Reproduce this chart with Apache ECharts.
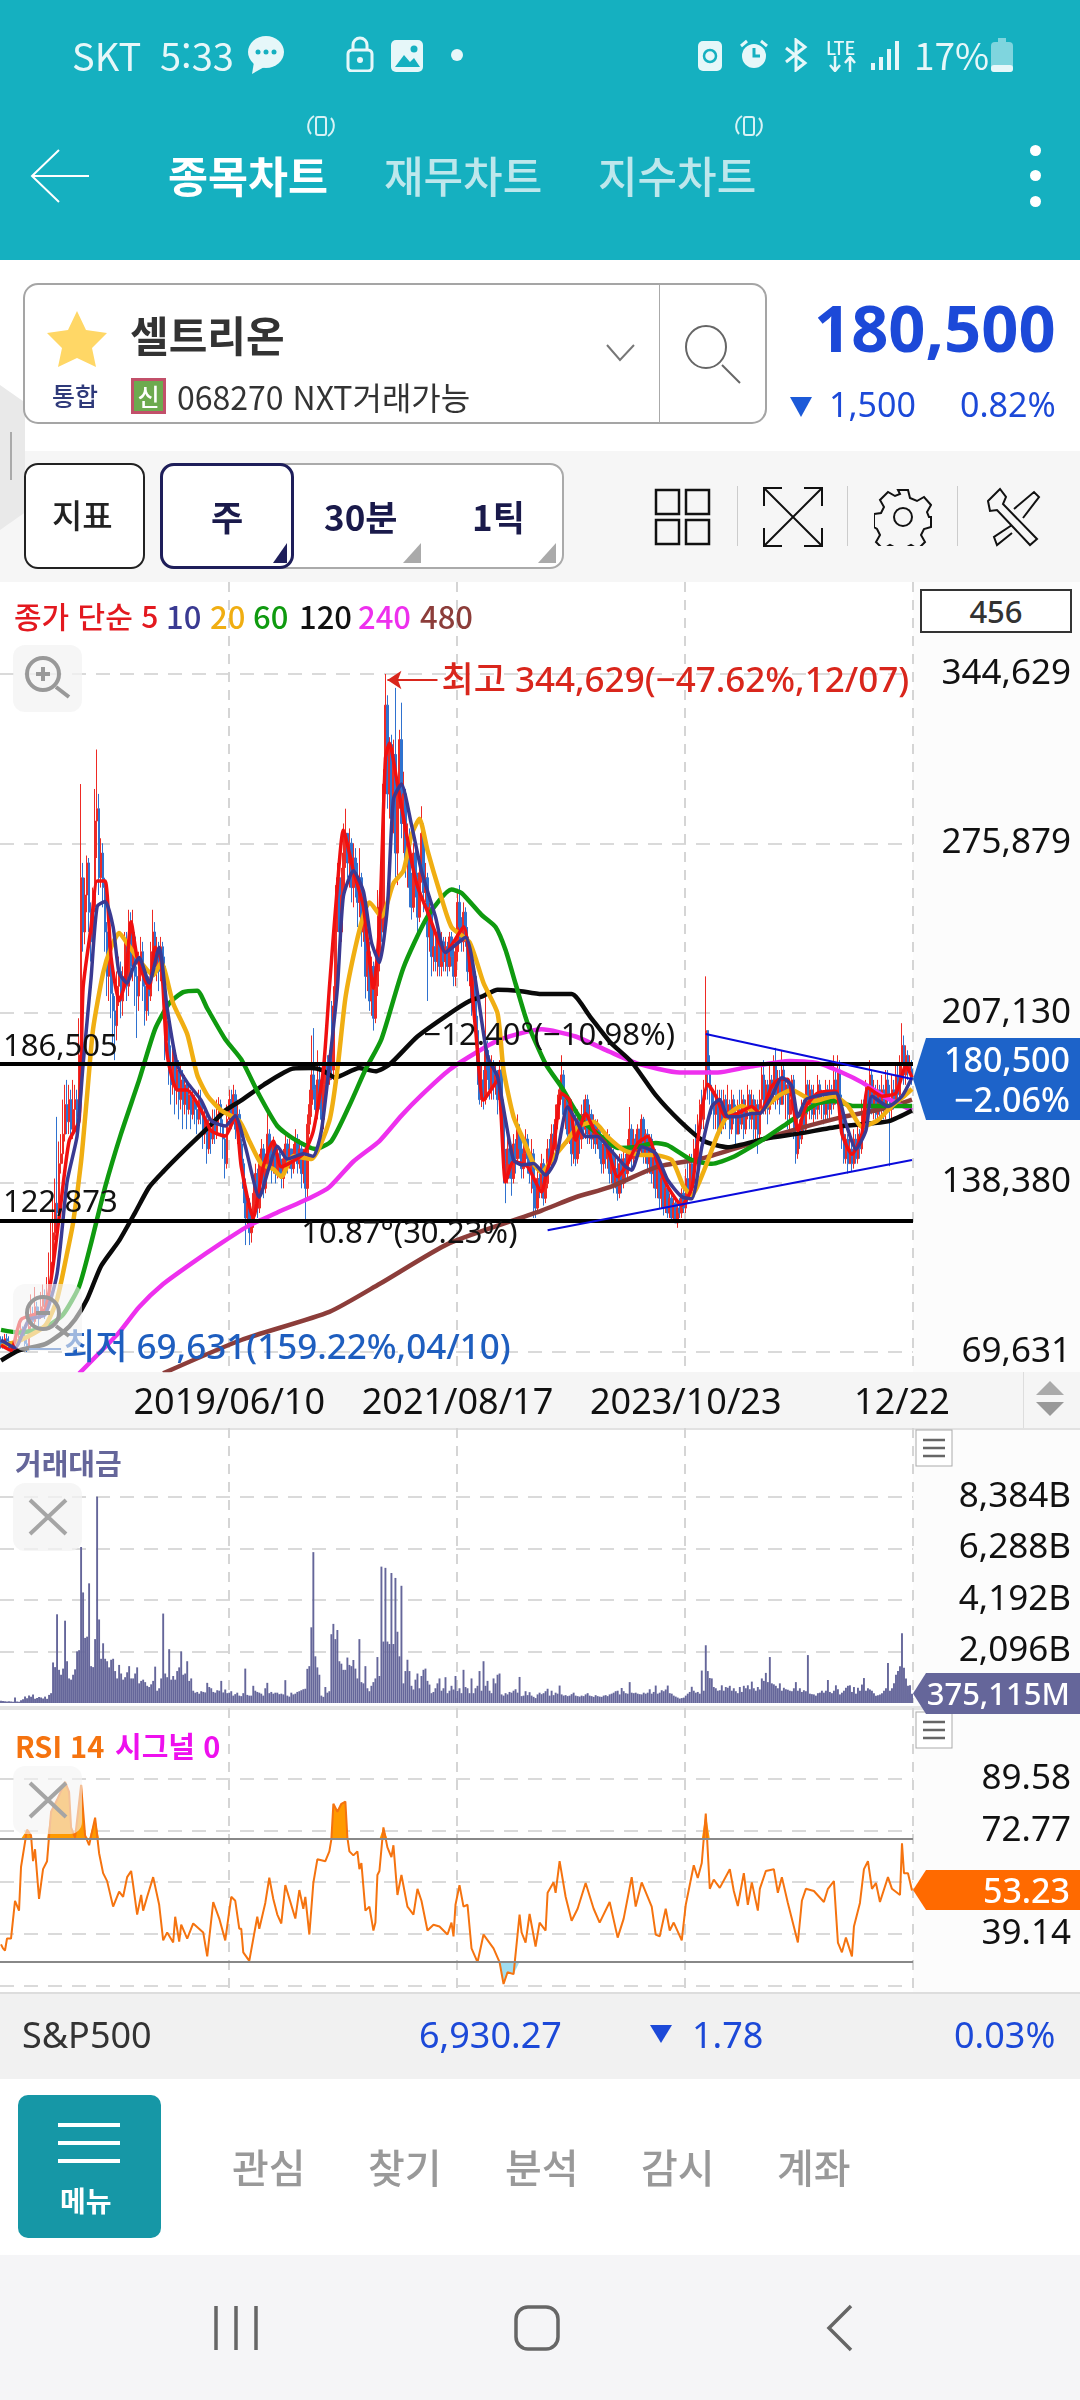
<!DOCTYPE html>
<html lang="ko">
<head>
<meta charset="utf-8">
<title>셀트리온 종목차트</title>
<script src="https://cdn.jsdelivr.net/npm/echarts@6/dist/echarts.min.js"></script>
<style>
    html, body { margin: 0; padding: 0; }
    body { position: relative; width: 1080px; height: 2400px; overflow: hidden; background: #fff; font-family: "Noto Sans CJK KR", "Noto Sans", sans-serif; }
    .box, .t, svg.ic { position: absolute; }
    .t { white-space: nowrap; line-height: 1; }
    #chart { position: absolute; left: 0; top: 0; width: 1080px; height: 2400px; z-index: 1; }
    #over { position: absolute; left: 0; top: 0; width: 1080px; height: 2400px; z-index: 2; }
    .tag { position: absolute; left: 913px; width: 167px; color: #fff; text-align: right; box-sizing: border-box; padding-right: 10px; clip-path: polygon(0 50%, 13px 0, 100% 0, 100% 100%, 13px 100%); font-family: "Noto Sans", sans-serif; font-weight: 500; font-size: 34px; }
</style>
</head>
<body>

<!-- 배경 -->
<div class="box" style="left:0;top:0;width:1080px;height:260px;background:#15B0C0"></div>
<div class="box" style="left:0;top:451px;width:1080px;height:131px;background:#F6F6F6"></div>
<div class="box" style="left:913px;top:582px;width:167px;height:1410px;background:#FCFCFC"></div>
<div class="box" style="left:0;top:1372px;width:1080px;height:56px;background:#F5F5F5;border-bottom:2px solid #E2E2E2"></div>
<div class="box" style="left:0;top:1706px;width:1080px;height:4px;background:#E4E4E4"></div>
<div class="box" style="left:0;top:1992px;width:1080px;height:85px;background:#F1F1F1;border-top:2px solid #DDD"></div>
<div class="box" style="left:0;top:2255px;width:1080px;height:145px;background:#F5F5F7"></div>

<div id="chart"></div>

<div id="over">
    <!-- 상태바 -->
    <div class="t" style="left:72px;top:36px;font-size:38px;color:#E6F7F9">SKT</div>
    <div class="t" style="left:160px;top:36px;font-size:38px;color:#E6F7F9">5:33</div>
    <svg class="ic" style="left:246px;top:34px" width="40" height="42" viewBox="0 0 40 42"><ellipse cx="20" cy="18" rx="18" ry="16" fill="#E6F7F9"/><path d="M8 28 L6 40 L20 32Z" fill="#E6F7F9"/><circle cx="12" cy="18" r="2.5" fill="#15B0C0"/><circle cx="20" cy="18" r="2.5" fill="#15B0C0"/><circle cx="28" cy="18" r="2.5" fill="#15B0C0"/></svg>
    <svg class="ic" style="left:345px;top:36px" width="30" height="36" viewBox="0 0 30 36"><rect x="3" y="14" width="24" height="21" rx="4" fill="none" stroke="#E6F7F9" stroke-width="3"/><path d="M8 14V9a7 7 0 0 1 14 0v5" fill="none" stroke="#E6F7F9" stroke-width="3"/><circle cx="15" cy="24" r="3" fill="#E6F7F9"/></svg>
    <svg class="ic" style="left:391px;top:40px" width="32" height="32" viewBox="0 0 32 32"><rect width="32" height="32" rx="5" fill="#E6F7F9"/><path d="M4 27L13 15l6 7 4-4 6 9z" fill="#15B0C0"/><circle cx="23" cy="9" r="3.5" fill="#15B0C0"/></svg>
    <div class="box" style="left:451px;top:49px;width:12px;height:12px;border-radius:50%;background:#E6F7F9"></div>
    <svg class="ic" style="left:698px;top:38px" width="26" height="34" viewBox="0 0 26 34"><rect y="3" width="24" height="30" rx="5" fill="#E6F7F9"/><circle cx="12" cy="18" r="6" fill="none" stroke="#15B0C0" stroke-width="2.5"/></svg>
    <svg class="ic" style="left:738px;top:38px" width="32" height="34" viewBox="0 0 32 34"><circle cx="16" cy="18" r="12" fill="#E6F7F9"/><path d="M16 10v8h6" fill="none" stroke="#15B0C0" stroke-width="3"/><path d="M3 8l6-5M29 8l-6-5" stroke="#E6F7F9" stroke-width="3"/></svg>
    <svg class="ic" style="left:782px;top:38px" width="28" height="34" viewBox="0 0 28 34" fill="none" stroke="#E6F7F9" stroke-width="3"><path d="M4 10l19 15-9 7V2l9 7L4 24"/></svg>
    <div class="t" style="left:826px;top:38px;font-size:18px;color:#E6F7F9;font-weight:500">LTE</div>
    <svg class="ic" style="left:828px;top:56px" width="30" height="16" viewBox="0 0 30 16" fill="none" stroke="#E6F7F9" stroke-width="2.5"><path d="M7 0v14M2 9l5 6 5-6M22 16V2M17 7l5-6 5 6"/></svg>
    <svg class="ic" style="left:870px;top:40px" width="30" height="30" viewBox="0 0 30 30" fill="#E6F7F9"><rect x="1" y="23" width="4" height="7"/><rect x="9" y="17" width="4" height="13"/><rect x="17" y="9" width="4" height="21"/><rect x="25" y="1" width="4" height="29"/></svg>
    <div class="t" style="left:914px;top:36px;font-size:37px;color:#E6F7F9">17%</div>
    <svg class="ic" style="left:991px;top:38px" width="24" height="34" viewBox="0 0 24 34"><rect y="4" width="22" height="30" rx="4" fill="#7FD5DE"/><rect x="7" width="8" height="5" fill="#7FD5DE"/><rect y="27" width="22" height="7" rx="3" fill="#E6F7F9"/></svg>

    <!-- 상단 탭 -->
    <svg class="ic" style="left:30px;top:148px" width="60" height="56" viewBox="0 0 60 56" fill="none" stroke="#fff" stroke-width="2"><path d="M29 2L2 28l27 26M2 28h57"/></svg>
    <svg class="ic" style="left:305px;top:110px" width="32" height="32" viewBox="0 0 32 32" fill="none" stroke="#D8F2F5" stroke-width="2"><rect x="11" y="7" width="10" height="18" rx="2"/><path d="M6 24a12 12 0 0 1 3-18M26 8a12 12 0 0 1-3 18"/></svg>
    <svg class="ic" style="left:733px;top:110px" width="32" height="32" viewBox="0 0 32 32" fill="none" stroke="#D8F2F5" stroke-width="2"><rect x="11" y="7" width="10" height="18" rx="2"/><path d="M6 24a12 12 0 0 1 3-18M26 8a12 12 0 0 1-3 18"/></svg>
    <div class="t" style="left:168px;top:153px;font-size:43.5px;font-weight:700;color:#fff">종목차트</div>
    <div class="t" style="left:384px;top:153px;font-size:43px;font-weight:500;color:#BDE7EC">재무차트</div>
    <div class="t" style="left:598px;top:153px;font-size:43px;font-weight:500;color:#BDE7EC">지수차트</div>
    <div class="box" style="left:1030px;top:145px;width:11px;height:11px;border-radius:50%;background:#fff"></div>
    <div class="box" style="left:1030px;top:170px;width:11px;height:11px;border-radius:50%;background:#fff"></div>
    <div class="box" style="left:1030px;top:196px;width:11px;height:11px;border-radius:50%;background:#fff"></div>

    <!-- 종목 검색 -->
    <div class="box" style="left:0;top:385px;width:25px;height:145px;background:#E9E9E9;clip-path:polygon(0 0,100% 12%,100% 88%,0 100%)"></div>
    <div class="box" style="left:10px;top:432px;width:2px;height:48px;background:#AAA"></div>
    <div class="box" style="left:23px;top:283px;width:744px;height:141px;box-sizing:border-box;border:2px solid #A5A5A5;border-radius:15px"></div>
    <div class="box" style="left:659px;top:285px;width:1px;height:138px;background:#AAA"></div>
    <svg class="ic" style="left:47px;top:311px" width="60" height="56" viewBox="0 0 60 56"><path d="M30 0l9 19 21 3-15 15 4 19-19-9-19 9 4-19L0 22l21-3z" fill="#FFD766"/></svg>
    <div class="t" style="left:130px;top:313px;font-size:42px;font-weight:700;color:#333">셀트리온</div>
    <svg class="ic" style="left:606px;top:344px" width="30" height="18" viewBox="0 0 30 18" fill="none" stroke="#777" stroke-width="2"><path d="M1 1l13 15L28 1"/></svg>
    <svg class="ic" style="left:684px;top:325px" width="60" height="60" viewBox="0 0 60 60" fill="none" stroke="#666" stroke-width="2"><ellipse cx="22" cy="22" rx="20" ry="21"/><path d="M38 40l18 18"/></svg>
    <div class="t" style="left:52px;top:383px;font-size:25px;color:#2F3A7A;font-weight:500">통합</div>
    <div class="box" style="left:131px;top:378px;width:35px;height:36px;box-sizing:border-box;border:3px solid #C2506A;background:#6DAA4F;color:#fff;font-size:24px;line-height:30px;text-align:center;font-weight:500">신</div>
    <div class="t" style="left:177px;top:380px;font-size:32px;color:#333">068270 NXT거래가능</div>
    <div class="t" style="left:814px;top:295px;font-size:65px;font-weight:700;color:#1C49D8;font-family:'Noto Sans',sans-serif">180,500</div>
    <svg class="ic" style="left:790px;top:397px" width="22" height="20" viewBox="0 0 22 20"><path d="M0 0h22L11 20z" fill="#1C5AD8"/></svg>
    <div class="t" style="left:829px;top:387px;font-size:34px;color:#1C49D8;font-family:'Noto Sans',sans-serif">1,500</div>
    <div class="t" style="left:960px;top:387px;font-size:34px;color:#1C49D8;font-family:'Noto Sans',sans-serif">0.82%</div>

    <!-- 도구 모음 -->
    <div class="box" style="left:24px;top:463px;width:121px;height:106px;box-sizing:border-box;background:#fff;border:2px solid #222;border-radius:14px"></div>
    <div class="t" style="left:52px;top:498px;font-size:33px;font-weight:500;color:#222">지표</div>
    <div class="box" style="left:160px;top:463px;width:404px;height:106px;box-sizing:border-box;background:#fff;border:2px solid #AAA;border-radius:14px"></div>
    <div class="box" style="left:160px;top:463px;width:134px;height:106px;box-sizing:border-box;background:#fff;border:3px solid #1E1E5A;border-radius:14px"></div>
    <div class="t" style="left:211px;top:498px;font-size:35px;font-weight:700;color:#1A1A4B">주</div>
    <div class="t" style="left:324px;top:498px;font-size:35px;font-weight:700;color:#1A1A4B">30분</div>
    <div class="t" style="left:472px;top:498px;font-size:35px;font-weight:700;color:#1A1A4B">1틱</div>
    <svg class="ic" style="left:273px;top:543px" width="14" height="20" viewBox="0 0 14 20"><path d="M14 0v20H0z" fill="#1E1E5A"/></svg>
    <svg class="ic" style="left:403px;top:543px" width="18" height="20" viewBox="0 0 18 20"><path d="M18 0v20H0z" fill="#AAA"/></svg>
    <svg class="ic" style="left:538px;top:543px" width="18" height="20" viewBox="0 0 18 20"><path d="M18 0v20H0z" fill="#AAA"/></svg>
    <svg class="ic" style="left:654px;top:488px" width="58" height="58" viewBox="0 0 58 58" fill="none" stroke="#111" stroke-width="2.5"><rect x="2" y="2" width="23" height="24"/><rect x="32" y="2" width="23" height="24"/><rect x="2" y="32" width="23" height="24"/><rect x="32" y="32" width="23" height="24"/></svg>
    <div class="box" style="left:737px;top:486px;width:1px;height:60px;background:#CCC"></div>
    <svg class="ic" style="left:762px;top:486px" width="62" height="62" viewBox="0 0 62 62" fill="none" stroke="#111" stroke-width="2"><path d="M2 20V2h18M42 2h18v18M60 42v18H42M20 60H2V42M2 2l58 58M60 2L2 60"/></svg>
    <div class="box" style="left:847px;top:486px;width:1px;height:60px;background:#CCC"></div>
    <svg class="ic" style="left:874px;top:488px" width="58" height="58" viewBox="0 0 58 58" fill="none" stroke="#111" stroke-width="2"><path d="M24 2h10l2 8 7 3 7-4 7 8-4 7 2 5 2 0v10l-7 2-3 6 4 7-7 7-7-4-6 3-2 7H24l-2-7-6-3-7 4-7-7 4-7-3-6-3-2V26l7-1 3-6-4-7 8-8 7 4 5-2z"/><circle cx="29" cy="29" r="9"/></svg>
    <div class="box" style="left:957px;top:486px;width:1px;height:60px;background:#CCC"></div>
    <svg class="ic" style="left:984px;top:487px" width="60" height="60" viewBox="0 0 60 60" fill="none" stroke="#111" stroke-width="2"><path d="M4 14l12-12 6 8-3 7 34 35-7 6-33-35-7 1zM30 22L50 5l5 5-16 21M28 38L10 50l3 8 15-12"/></svg>

    <!-- 차트 범례 -->
    <div class="t" style="left:14px;top:600px;font-size:30px;font-weight:500;color:#E3191F">종가 단순 5</div>
    <div class="t" style="left:166px;top:600px;font-size:31px;font-weight:500;color:#3A3A92">10</div>
    <div class="t" style="left:210px;top:600px;font-size:31px;font-weight:500;color:#F0AE12">20</div>
    <div class="t" style="left:253px;top:600px;font-size:31px;font-weight:500;color:#0F9A0F">60</div>
    <div class="t" style="left:299px;top:600px;font-size:31px;font-weight:500;color:#111">120</div>
    <div class="t" style="left:358px;top:600px;font-size:31px;font-weight:500;color:#EE30EE">240</div>
    <div class="t" style="left:420px;top:600px;font-size:31px;font-weight:500;color:#8C3D3A">480</div>
    <div class="box" style="left:920px;top:589px;width:152px;height:44px;box-sizing:border-box;border:2px solid #333;background:#fff;color:#333;font-size:31px;line-height:40px;text-align:center;font-family:'Noto Sans',sans-serif;font-weight:500">456</div>

    <!-- 돋보기 / 닫기 -->
    <div class="box" style="left:13px;top:645px;width:69px;height:67px;border-radius:12px;background:rgba(243,243,243,.75)"></div>
    <svg class="ic" style="left:24px;top:655px" width="48" height="48" viewBox="0 0 48 48" fill="none" stroke="#999" stroke-width="4"><circle cx="19" cy="19" r="16"/><path d="M12 19h14M19 12v14M32 32l13 10"/></svg>
    <div class="box" style="left:13px;top:1284px;width:69px;height:67px;border-radius:12px;background:rgba(243,243,243,.6)"></div>
    <svg class="ic" style="left:24px;top:1294px" width="48" height="48" viewBox="0 0 48 48" fill="none" stroke="#999" stroke-width="4"><circle cx="19" cy="19" r="16"/><path d="M12 19h14M32 32l13 10"/></svg>
    <div class="box" style="left:13px;top:1483px;width:69px;height:68px;border-radius:12px;background:rgba(243,243,243,.75)"></div>
    <svg class="ic" style="left:28px;top:1498px" width="40" height="38" viewBox="0 0 40 38" stroke="#A5A5A5" stroke-width="4"><path d="M2 2l36 34M38 2L2 36"/></svg>
    <div class="box" style="left:13px;top:1766px;width:69px;height:68px;border-radius:12px;background:rgba(243,243,243,.6)"></div>
    <svg class="ic" style="left:28px;top:1781px" width="40" height="38" viewBox="0 0 40 38" stroke="#A5A5A5" stroke-width="4"><path d="M2 2l36 34M38 2L2 36"/></svg>
    <div class="t" style="left:15px;top:1448px;font-size:29px;font-weight:700;color:#65669A">거래대금</div>
    <div class="t" style="left:15px;top:1731px;font-size:29px;font-weight:700;color:#F5730F">RSI 14</div>
    <div class="t" style="left:115px;top:1731px;font-size:29px;font-weight:700;color:#EE10EE">시그널 0</div>

    <!-- 패널 메뉴 -->
    <svg class="ic" style="left:915px;top:1429px" width="38" height="38" viewBox="0 0 38 38" fill="none"><rect x="1" y="1" width="36" height="36" fill="#fff" stroke="#AAA"/><path d="M8 11h22M8 19h22M8 27h22" stroke="#666" stroke-width="2.5"/></svg>
    <svg class="ic" style="left:915px;top:1711px" width="38" height="38" viewBox="0 0 38 38" fill="none"><rect x="1" y="1" width="36" height="36" fill="#fff" stroke="#AAA"/><path d="M8 11h22M8 19h22M8 27h22" stroke="#666" stroke-width="2.5"/></svg>
    <div class="box" style="left:1023px;top:1372px;width:1px;height:56px;background:#DDD"></div>
    <svg class="ic" style="left:1036px;top:1381px" width="28" height="14" viewBox="0 0 28 14"><path d="M14 0l14 14H0z" fill="#AAA"/></svg>
    <svg class="ic" style="left:1036px;top:1402px" width="28" height="14" viewBox="0 0 28 14"><path d="M14 14L28 0H0z" fill="#999"/></svg>

    <!-- 현재값 태그 -->
    <div class="tag" style="top:1038px;height:82px;background:#1D63C9;line-height:40px;padding-top:1px">180,500<br>−2.06%</div>
    <div class="tag" style="top:1673px;height:41px;background:#65669A;line-height:41px;font-size:31px">375,115M</div>
    <div class="tag" style="top:1870px;height:40px;background:#FF6A00;line-height:40px">53.23</div>

    <!-- 하단 지수 -->
    <div class="t" style="left:22px;top:2017px;font-size:36px;color:#333;font-family:'Noto Sans',sans-serif">S&amp;P500</div>
    <div class="t" style="left:419px;top:2017px;font-size:36px;color:#1C49D8;font-family:'Noto Sans',sans-serif">6,930.27</div>
    <svg class="ic" style="left:650px;top:2025px" width="22" height="18" viewBox="0 0 22 18"><path d="M0 0h22L11 18z" fill="#1C49D8"/></svg>
    <div class="t" style="left:692px;top:2017px;font-size:36px;color:#1C49D8;font-family:'Noto Sans',sans-serif">1.78</div>
    <div class="t" style="left:954px;top:2017px;font-size:36px;color:#1C49D8;font-family:'Noto Sans',sans-serif">0.03%</div>

    <!-- 하단 메뉴 -->
    <div class="box" style="left:18px;top:2095px;width:143px;height:143px;border-radius:10px;background:#1697A6"></div>
    <svg class="ic" style="left:58px;top:2122px" width="62" height="44" viewBox="0 0 62 44" stroke="#fff" stroke-width="4"><path d="M0 3h62M0 21h62M0 39h62"/></svg>
    <div class="t" style="left:60px;top:2186px;font-size:28px;font-weight:700;color:#fff">메뉴</div>
    <div class="t" style="left:232px;top:2146px;font-size:40px;font-weight:500;color:#999">관심</div>
    <div class="t" style="left:368px;top:2146px;font-size:40px;font-weight:500;color:#999">찾기</div>
    <div class="t" style="left:505px;top:2146px;font-size:40px;font-weight:500;color:#999">분석</div>
    <div class="t" style="left:641px;top:2146px;font-size:40px;font-weight:500;color:#999">감시</div>
    <div class="t" style="left:777px;top:2146px;font-size:40px;font-weight:500;color:#999">계좌</div>
    <svg class="ic" style="left:213px;top:2305px" width="46" height="46" viewBox="0 0 46 46" stroke="#666" stroke-width="3.5"><path d="M3 1v44M23 1v44M43 1v44"/></svg>
    <svg class="ic" style="left:514px;top:2305px" width="46" height="46" viewBox="0 0 46 46" fill="none" stroke="#666" stroke-width="3.5"><rect x="2" y="2" width="42" height="42" rx="12"/></svg>
    <svg class="ic" style="left:826px;top:2304px" width="28" height="48" viewBox="0 0 28 48" fill="none" stroke="#666" stroke-width="3.5"><path d="M25 2L3 24l22 22"/></svg>
</div>

<script>
// 가격 단위: 천원, 거래대금 단위: B
const openPrices = [
    74,73,72,75,74,71,72,70,71,74,76,79,76,73,72,80,84,82,88,85,
    85,88,92,86,91,98,106,118,130,126,146,150,158,170,163,172,160,168,172,165,
    190,262,240,255,268,248,236,250,285,290,262,272,258,240,222,232,215,208,202,218,
    224,212,222,236,218,244,226,238,222,214,226,232,218,208,220,214,232,240,226,232,
    224,234,226,196,204,186,178,192,176,184,172,180,170,178,168,174,166,172,168,164,
    172,166,158,164,152,160,156,164,158,166,170,162,156,146,164,172,166,174,160,166,
    154,146,136,124,130,118,122,134,142,128,146,152,136,146,158,150,144,154,142,150,
    146,140,148,154,146,152,144,150,156,146,152,142,148,136,162,170,182,176,168,180,
    172,164,178,186,180,190,184,210,245,262,240,255,272,280,268,276,258,270,262,252,
    262,240,252,222,232,212,226,205,218,228,250,240,300,332,296,316,286,312,272,298,
    318,284,296,268,276,258,250,272,262,246,264,280,256,262,238,250,230,234,228,238,
    226,236,228,234,226,238,230,222,232,252,242,236,248,238,224,230,212,222,200,186,
    172,180,172,192,184,176,186,178,182,172,184,168,146,140,152,146,140,154,148,160,
    152,144,150,156,148,142,150,136,128,140,136,146,132,138,152,146,158,152,164,170,
    176,182,166,172,158,170,150,158,148,164,156,166,160,172,158,166,156,162,154,160,
    152,146,154,148,156,142,150,138,144,134,146,138,148,142,152,160,148,156,150,160,
    154,164,150,158,146,156,142,150,136,146,132,140,128,136,126,132,124,130,122,128,
    126,134,128,140,134,146,138,152,146,160,170,164,176,200,184,176,170,166,172,160,
    170,162,172,164,170,160,172,166,158,168,162,172,160,168,174,164,172,160,170,158,
    172,182,170,178,168,180,174,186,172,180,170,184,174,178,166,172,180,158,150,162,
    156,168,160,178,170,176,166,174,168,178,170,172,166,176,168,176,170,180,174,184,
    172,158,148,156,146,152,146,156,148,158,152,166,160,176,170,182,168,176,166,176,
    168,176,168,180,172,168,176,172,182,174,186,194,182,190,184,184.3
]
const closePrices = [
    73,72,75,74,71,72,70,71,74,76,79,76,73,71,80,84,82,88,85,83,
    88,92,86,91,98,106,118,130,126,146,150,158,170,163,172,160,168,172,165,190,
    262,240,255,268,248,236,250,285,290,262,272,258,240,222,232,215,208,202,218,224,
    212,222,236,218,244,226,238,222,214,226,232,218,208,220,214,232,240,226,232,224,
    234,226,196,204,186,178,192,176,184,172,180,170,178,168,174,166,172,168,164,172,
    166,158,164,152,160,156,164,158,166,170,162,156,146,164,172,166,174,160,166,154,
    146,136,124,130,118,122,134,142,128,146,152,136,146,158,150,144,154,142,150,146,
    140,148,154,146,152,144,150,156,146,152,142,148,136,162,170,182,176,168,180,172,
    164,178,186,180,190,184,210,245,262,240,255,272,280,268,276,258,270,262,252,262,
    240,252,222,232,212,226,205,218,228,250,240,300,332,296,316,286,312,272,298,318,
    284,296,268,276,258,250,272,262,246,264,280,256,262,238,250,230,234,228,238,226,
    236,228,234,226,238,230,222,232,252,242,236,248,238,224,230,212,222,200,186,172,
    180,172,192,184,176,186,178,182,172,184,168,146,140,152,146,140,154,148,160,152,
    144,150,156,148,142,150,136,128,140,136,146,132,138,152,146,158,152,164,170,176,
    182,166,172,158,170,150,158,148,164,156,166,160,172,158,166,156,162,154,160,152,
    146,154,148,156,142,150,138,144,134,146,138,148,142,152,160,148,156,150,160,154,
    164,150,158,146,156,142,150,136,146,132,140,128,136,126,132,124,130,122,128,126,
    134,128,140,134,146,138,152,146,160,170,164,176,200,184,176,170,166,172,160,170,
    162,172,164,170,160,172,166,158,168,162,172,160,168,174,164,172,160,170,158,172,
    182,170,178,168,180,174,186,172,180,170,184,174,178,166,172,180,158,150,162,156,
    168,160,178,170,176,166,174,168,178,170,172,166,176,168,176,170,180,174,184,172,
    158,148,156,146,152,146,156,148,158,152,166,160,176,170,182,168,176,166,176,168,
    176,168,180,172,168,176,172,182,174,186,194,182,190,184,186,180.5
]
const lowPrices = [
    71,71,71,72,70,70,69.7,69.7,70,73,75,75,72,69.631,72,79,80,81,83,80,
    83,85,83,85,88,96,104,115,120,122,142,146,155,158,158,155,156,160,158,163,
    186,232,235,248,240,228,230,248,270,255,258,250,232,214,212,205,195,188,196,210,
    205,206,218,212,214,222,220,210,197,208,220,212,202,204,206,212,228,222,220,216,
    220,220,188,190,178,170,174,166,170,164,168,160,166,160,166,160,164,162,158,162,
    162,152,154,146,150,150,154,154,156,162,158,148,140,144,160,160,162,156,154,148,
    142,130,113,120,113,114,120,130,124,126,142,132,134,144,146,138,142,138,140,142,
    136,136,144,142,144,140,142,148,142,144,136,138,123,132,158,165,172,164,164,168,
    160,160,174,176,178,180,180,206,240,236,236,250,266,262,258,252,250,254,242,246,
    234,236,213,216,208,206,200,203,214,224,236,238,296,290,286,280,280,262,259,290,
    278,272,262,258,250,245,248,254,240,244,260,248,252,212,232,222,224,224,222,222,
    222,224,224,222,224,226,218,218,228,236,232,232,234,220,218,206,208,194,178,170,
    169,168,170,180,172,172,172,174,166,168,160,138,130,138,140,133,138,142,146,148,
    140,140,146,142,138,134,124,124,126,132,132,129,130,136,142,144,148,150,160,164,
    172,162,160,154,154,145,146,145,146,150,152,156,156,154,154,152,152,150,152,148,
    142,142,144,144,138,138,134,136,131,132,134,136,138,140,146,144,146,146,148,150,
    150,146,146,142,142,138,136,132,132,128,128,125,126,124,124,122,122,122,120,124,
    124,126,126,130,132,134,136,144,144,156,160,160,172,172,170,166,160,160,156,158,
    158,160,160,164,156,158,162,154,158,158,160,156,158,164,160,160,156,156,150,156,
    168,166,166,162,166,170,170,168,170,166,170,170,164,160,160,166,156,146,148,152,
    154,158,158,166,164,164,162,164,164,166,164,162,164,164,164,166,168,170,170,168,
    152,146,146,142,146,143,144,146,146,148,150,156,158,166,166,166,164,164,164,164,
    164,164,164,168,145,164,168,170,172,172,182,178,178,180,182,178
]
const highPrices = [
    76,76,77,77,76,74,74,73,76,79,82,80,78,75,84,93,88,96,90,88,
    94,97,95,100,110,122,132,140,165,155,158,172,178,180,178,176,180,178,176,205,
    300,268,262,271,270,252,258,298,314,296,278,276,262,244,240,236,222,214,224,230,
    228,226,240,240,249,248,249,240,226,232,238,236,222,224,222,236,249,244,238,236,
    238,236,230,212,208,194,198,194,190,188,186,184,182,180,178,176,176,174,172,176,
    176,170,168,166,164,164,168,168,172,173,172,164,158,170,176,176,178,176,172,168,
    156,148,140,132,132,126,138,146,144,150,156,154,150,169,160,154,157,154,152,152,
    148,152,158,156,156,152,154,160,158,156,154,152,150,166,176,198,201,178,192,186,
    178,182,190,190,192,212,218,259,268,262,266,284,290,280,282,278,276,274,268,274,
    264,258,254,236,236,230,228,222,257,254,258,306,344.629,336,319,320,318,339,302,322,
    333,305,298,284,282,264,276,276,264,268,291,284,268,264,252,252,240,238,242,240,
    240,238,238,236,240,240,236,238,257,259,246,252,250,242,234,232,226,224,206,192,
    186,184,218,196,190,190,188,186,184,188,186,172,152,158,156,152,158,156,166,162,
    156,154,160,158,152,156,152,138,144,144,150,148,142,156,156,162,162,170,174,180,
    190,184,176,174,172,172,164,166,168,166,170,172,174,174,170,168,166,164,164,162,
    156,158,158,160,158,154,152,150,148,150,150,152,150,156,169,162,160,158,162,160,
    166,165,160,160,158,158,152,152,148,148,142,142,138,138,134,134,132,132,130,132,
    136,136,144,148,150,150,156,162,166,172,176,180,222,197,190,178,176,178,176,176,
    176,176,174,178,172,176,174,170,172,176,176,174,172,178,176,176,174,172,172,176,
    186,188,180,180,186,182,190,193,184,184,192,186,180,180,178,182,182,162,166,164,
    172,172,188,180,180,178,178,174,182,180,176,174,180,178,180,178,190,184,190,188,
    174,164,158,158,156,156,160,158,162,160,172,172,180,178,188,184,180,178,180,178,
    182,178,184,184,178,182,180,186,186,190,203,198,194,192,190,188
]
const tradeValues = [
    90,80,70,60,70,60,50,220,60,50,110,150,260,190,310,250,350,170,200,240,
    220,180,260,170,330,400,1650,1460,3610,1350,1150,1400,3350,1700,1000,950,1150,1370,2100,2150,
    6350,4500,2650,2700,4870,1500,1460,2600,8400,3400,1800,2430,1800,1700,1450,1760,1800,1300,1000,1550,
    1200,950,1050,1250,1500,1000,1000,1200,1450,800,900,950,850,700,650,760,900,1480,500,600,
    1000,3640,1200,1050,2190,950,1100,950,1300,1450,2100,1150,1200,1700,900,1000,500,420,450,380,
    480,450,430,820,650,600,450,420,520,500,900,430,550,400,420,480,300,360,420,300,
    280,400,1400,330,300,300,700,500,450,420,380,300,600,820,400,450,380,420,420,360,
    380,350,930,300,260,420,350,380,450,480,520,560,580,1390,1500,3080,6140,1900,1450,1150,
    300,250,650,420,480,2800,3220,2600,2970,1700,1600,1350,1350,1850,1550,1500,1750,1400,1000,2600,
    850,800,1500,600,480,700,850,1000,1870,1100,5550,2500,5500,2500,2400,5290,2400,5090,2900,1900,
    4770,800,1300,1760,1300,700,550,950,1200,600,1100,1350,1400,900,750,400,450,600,800,1000,
    500,600,1050,400,500,700,550,1100,500,600,400,1350,650,600,400,1000,400,600,700,1300,
    500,1700,700,900,500,400,1000,800,1150,1200,350,300,400,350,450,420,500,560,420,1060,
    280,300,480,320,440,300,250,200,350,420,360,400,480,580,300,500,320,420,380,710,
    350,300,320,280,300,360,420,300,280,260,300,280,350,400,300,280,250,320,280,260,
    250,300,320,280,350,380,420,480,500,350,610,480,400,380,850,420,400,420,380,360,
    350,420,380,420,560,380,450,710,380,420,520,480,550,710,400,380,300,260,220,180,
    200,220,300,380,450,660,500,420,450,380,1320,500,2350,1300,1015,1000,650,600,500,520,
    720,500,650,620,700,500,600,480,400,650,450,700,600,720,560,870,600,500,650,550,
    1000,900,1225,850,1870,800,760,700,600,800,500,620,560,540,500,480,600,850,500,600,
    450,520,480,1950,380,360,350,300,400,420,500,420,500,935,450,400,500,720,560,350,
    420,500,620,700,720,450,650,380,620,500,750,1015,500,600,550,500,400,300,320,350,
    400,500,600,1630,500,600,800,1145,1300,1500,2837,1435,1000,700,720,375
]

// [봉 번호, 값]
const ma5Points = [[0,72.4],[5,70.3],[10,82.8],[22,86.9],[29,124.1],[34,155.2],[39,163.4],[41,217.2],[45,242.1],[48,260.7],[52,260.7],[55,229.6],[59,212.1],[62,219.3],[65,244.1],[68,229.6],[74,217.2],[77,233.8],[80,228.6],[83,190.3],[88,175.9],[93,175.9],[100,167.6],[105,159.3],[112,157.2],[117,165.5],[120,144.8],[126,124.1],[131,144.8],[136,155.2],[140,144.8],[151,150],[156,159.3],[161,184.1],[164,217.2],[168,258.6],[171,281.4],[176,264.8],[181,250.3],[186,217.2],[189,242.1],[192,310.3],[194,316.6],[198,300],[205,268.9],[208,258.6],[213,248.3],[222,231.7],[231,242.1],[237,200.7],[241,171.7],[248,179.9],[252,138.6],[256,147],[263,144.8],[270,134.5],[272,140.7],[276,152.9],[280,174.5],[284,171.8],[287,155.6],[292,166.4],[297,158.3],[302,154.3],[308,140.7],[313,146.1],[318,154.3],[323,157],[328,146.1],[333,136.7],[340,129.2],[345,136],[348,155.4],[353,178.2],[357,173.4],[362,165],[368,166.4],[375,169.2],[379,166.4],[385,177.5],[389,180.3],[393,180.3],[398,159.5],[402,169.2],[408,174.7],[417,175.4],[420,158.1],[425,149.8],[430,158.1],[433,176.8],[440,173.4],[447,174.7],[452,185.8],[455,181]]
const ma10Points = [[0,74.5],[7,71.4],[14,82.8],[22,84.8],[28,101.4],[33,138.6],[38,157.2],[41,186.2],[45,221.4],[48,250.3],[52,252.4],[56,242],[59,223.4],[63,219.3],[66,225.5],[69,229.6],[74,219.3],[79,233.8],[83,209],[88,186.2],[93,179],[100,171.7],[105,163.4],[112,161.3],[117,165.5],[122,153.1],[129,132.4],[134,144.8],[138,153.1],[143,147.9],[151,150],[156,149],[160,159.3],[164,186.2],[168,217.2],[171,254.5],[176,264.8],[181,256.5],[185,235.9],[189,227.6],[193,250.3],[196,293.8],[200,300],[205,283.5],[210,264.8],[217,246.2],[222,231.7],[232,237.9],[238,215],[243,189.4],[248,181.3],[252,163.7],[256,147.5],[260,145.5],[266,146.1],[272,141.4],[277,147.5],[283,169.1],[288,162.4],[292,157],[298,157],[303,152.9],[312,144.8],[315,143.4],[320,152.9],[327,150.2],[333,139.4],[340,132.6],[345,131.8],[350,152.6],[355,169.2],[359,172],[363,165],[368,165],[375,166.4],[379,166.4],[385,173.4],[390,181],[395,177.5],[398,165],[402,172],[407,173.4],[417,174.7],[422,162.3],[427,151.9],[432,159.5],[435,173.4],[443,169.2],[450,173.4],[455,181]]
const ma20Points = [[0,72],[10,74.5],[22,80.3],[28,91],[33,109.7],[36,122],[40,146.9],[43,173.8],[46,200.7],[51,223.4],[55,233.8],[59,239.6],[63,235.4],[69,228.6],[76,222.4],[80,227.6],[86,211],[93,198.6],[98,182],[103,173.8],[110,167.6],[119,163.4],[124,155.2],[130,145.9],[136,143.8],[140,140.7],[146,149],[155,147.9],[164,163.4],[168,184.1],[172,213.1],[177,233.8],[182,249.3],[184,252],[190,246.2],[196,259.7],[201,264.8],[205,279.3],[209,285.9],[213,273.1],[219,256.5],[225,242],[234,235.9],[241,219.3],[248,207],[251,184],[256,165],[261,155.6],[266,146],[270,142.6],[276,148.7],[283,155.6],[288,161],[296,163],[303,156.9],[311,151.6],[320,149.5],[326,149.5],[335,147.5],[341,136.6],[345,133.3],[351,143],[358,158],[363,165.7],[370,169.4],[378,166.5],[383,169.8],[389,173.9],[395,175.9],[400,173.9],[406,171.4],[416,173.4],[423,169.4],[430,161],[438,163.7],[445,169.4],[451,173.4],[455,176.3]]
const ma60Points = [[0,78.6],[9,77.5],[22,79.6],[31,84.8],[39,96.2],[45,113.8],[52,136.5],[60,158.3],[69,180],[77,200.7],[84,211],[91,215.6],[98,216.2],[103,209],[112,196.5],[120,188.3],[129,173.8],[138,161.3],[146,156.2],[157,152],[165,155.2],[174,169.6],[182,184.1],[190,196.5],[201,225.5],[213,246.2],[225,257.2],[230,255.8],[240,246.9],[247,242],[252,232.7],[257,219],[263,203],[272,186.5],[280,177],[290,163.7],[300,156.9],[308,152.4],[317,152.8],[327,154.4],[333,153.5],[345,147.5],[355,146],[365,148.5],[381,156],[392,162],[400,166.5],[408,170.6],[416,171.4],[426,169.4],[435,169.4],[445,169.4],[455,169.4]]
const ma120Points = [[0,66.2],[9,70.3],[22,72.8],[31,77.6],[37,82.8],[43,91],[50,104.5],[59,114.8],[67,126.2],[74,136.5],[81,142.8],[91,151],[103,160.3],[112,167.6],[120,171.7],[131,177.9],[146,184.6],[155,184.8],[160,184.1],[167,181],[179,184.8],[187,183.5],[194,186.2],[208,197.6],[224,206.9],[234,212],[241,214.1],[248,216.6],[258,216.2],[270,214.8],[285,214.8],[294,205.9],[304,195.5],[315,187.2],[327,173.8],[339,163.4],[351,155.2],[363,152.7],[382,156.2],[399,158.3],[418,161],[435,162.4],[444,163.4],[455,167.6]]
const ma240Points = [[39,60.9],[48,68.3],[59,77.6],[69,87.9],[81,97.2],[95,105.5],[110,113.8],[124,121],[138,126.2],[155,132.4],[164,136.5],[176,146.9],[189,155.2],[200,165.5],[210,173.8],[224,184.1],[238,191.4],[250,196.6],[270,200.5],[287,197.6],[304,191.4],[318,186.6],[339,183],[358,183],[373,185.2],[394,187.7],[408,186.8],[420,183],[430,179],[442,172.8],[455,167.6]]
const ma480Points = [[81,61],[120,74.5],[164,85.9],[189,97.2],[224,113.8],[270,127],[287,132.4],[304,136.5],[328,144.8],[349,147.9],[366,152],[390,158.3],[418,164.5],[442,168.6],[455,172]]

const rsiPoints = [[0,35.7],[1,34.4],[2,33.7],[3,37.6],[5,37.6],[7,49.9],[9,46.7],[10,60.9],[13,73.1],[15,71.2],[16,62.8],[17,66.7],[19,50.5],[21,60.2],[23,62.8],[25,78.9],[28,82.8],[32,88.6],[34,85.4],[35,73.8],[37,70.5],[40,87.7],[42,71.2],[44,68],[47,77],[49,65.4],[51,58.9],[53,56.3],[56,48],[59,52.9],[61,51.2],[63,57.6],[65,59.6],[66,55],[68,45.4],[70,51.8],[71,46.7],[73,51.2],[76,57.6],[79,48.6],[81,37],[83,39.6],[86,36.3],[87,44.7],[89,36.6],[90,42.1],[93,37.6],[96,42.5],[101,39.6],[103,31.8],[106,49.5],[109,44.1],[112,37],[115,51.2],[117,49.9],[119,40.8],[120,40.8],[121,33.1],[124,30.3],[128,44.7],[129,40.8],[132,49.2],[134,57.4],[136,50.5],[138,45.4],[140,42.5],[142,55],[147,44.1],[149,53.4],[151,47.3],[152,51.2],[154,38.9],[156,55.7],[158,63.4],[162,62.8],[164,66],[165,69.9],[166,81.5],[168,78.9],[170,81.5],[172,82.2],[173,70.5],[174,66],[176,64.7],[178,66],[179,60.2],[180,62.2],[182,46.7],[184,48],[186,40.2],[187,42.8],[188,58.3],[189,59.6],[191,73.8],[193,67.3],[195,64.1],[196,68],[198,51.8],[200,58.3],[203,48],[206,45.4],[208,53.8],[210,49.9],[213,40.2],[216,42.1],[219,41.5],[223,38.9],[225,42.8],[226,38.3],[227,48.6],[229,55],[231,48],[233,48.6],[235,34.4],[238,29.9],[241,38.9],[246,34.4],[249,29.9],[251,22.8],[253,26.6],[256,26],[259,45.4],[260,39.6],[262,36.3],[264,45.6],[267,35],[269,42.8],[272,40.2],[273,52.5],[276,55.9],[277,52.5],[279,62.8],[282,51.2],[285,43.4],[288,47.3],[292,55.7],[296,47.3],[299,42.8],[304,49.5],[308,37.9],[311,44.1],[315,57.6],[317,48],[320,55.9],[325,48],[327,38.9],[329,38.3],[332,47.3],[334,40.2],[336,42.8],[340,37],[342,48.6],[346,61.5],[348,57.3],[350,62.2],[352,78.3],[354,53.8],[356,56.8],[359,54.1],[364,60.2],[366,53.1],[368,48.2],[371,58.9],[373,48.6],[375,55.9],[378,46.7],[379,53.8],[382,59.6],[386,60.2],[388,52.5],[390,57.6],[393,49.2],[398,36.3],[400,49.9],[402,53.8],[406,53.1],[411,49.5],[413,53.8],[416,56.3],[418,36.3],[420,33.1],[422,37.9],[425,31.8],[426,41.5],[429,49.2],[431,60.2],[433,62.8],[435,53.8],[437,55.7],[439,49.5],[443,57.6],[445,53.8],[449,51.8],[450,68.6],[451,58.9],[453,58.9],[455,53.23]]

// 축 눈금
const dateTickBars = [114, 228, 342, 455]
const dateTickLabels = ['2019/06/10', '2021/08/17', '2023/10/23', '12/22']
const priceTicks = [69.631, 138.38, 207.13, 275.879, 344.629]
const tradeTicks = [2096, 4192, 6288, 8384]
const rsiGridTicks = [22.33, 39.14, 55.95, 72.77, 89.58]
const rsiLabelTicks = [39.14, 72.77, 89.58]
const rsiBands = [70, 30]

// 수평선, 추세선 [봉, 값, 봉, 값]
const levelPrices = [186.505, 122.873]
const levelLabels = ['186,505', '122,873']
const trendLines = [[352, 198.6, 455, 180.4], [273, 119, 455, 147.5]]

const barCount = closePrices.length
const categories = Array.from({ length: barCount }, (_, i) => {
    const k = dateTickBars.indexOf(i)
    return k >= 0 ? dateTickLabels[k] : ''
})
const candles = closePrices.map((c, i) => [openPrices[i], c, lowPrices[i], highPrices[i]])

const numFont = '"Noto Sans", "Noto Sans CJK KR", sans-serif'
const gridLineStyle = { color: '#DADADA', width: 2, type: [14, 10] }
const splitX = i => i === 114 || i === 228 || i === 342

const makeXAxis = (gridIndex, showLabel) => ({
    type: 'category',
    gridIndex,
    data: categories,
    axisLine: { show: false },
    axisTick: { show: false, alignWithLabel: true, interval: splitX },
    splitLine: { show: true, interval: splitX, lineStyle: { color: '#D5D5D5', width: 2, type: [10, 8] } },
    axisLabel: {
        show: showLabel,
        interval: i => dateTickBars.includes(i),
        margin: 16,
        fontSize: 36,
        color: '#111',
        fontFamily: numFont,
        formatter: v => (v === '12/22' ? '{end|12/22}' : v),
        rich: { end: { fontSize: 36, color: '#111', fontFamily: numFont, padding: [0, 20, 0, 0] } }
    }
})

const makeYAxis = (gridIndex, min, max, ticks, labelTicks, formatter) => ({
    type: 'value',
    gridIndex,
    position: 'right',
    min,
    max,
    axisLine: { show: false },
    axisTick: { show: false, customValues: ticks },
    splitLine: { show: true, lineStyle: gridLineStyle },
    axisLabel: {
        customValues: labelTicks,
        formatter,
        align: 'right',
        margin: 158,
        fontSize: 35,
        padding: [6, 0, 0, 0],
        color: '#111',
        fontFamily: numFont
    }
})

const maLine = (name, points, color, width) => ({
    name,
    type: 'line',
    data: points,
    symbol: 'none',
    smooth: 0.2,
    lineStyle: { color, width },
    silent: true
})

const textMark = (bar, price, text, color, fontSize = 31, fontWeight = 'normal') => ({
    coord: [bar, price],
    symbol: 'circle',
    symbolSize: 0,
    label: { show: true, position: 'right', distance: 0, formatter: text, color, fontSize, fontWeight, fontFamily: numFont }
})

const chart = echarts.init(document.getElementById('chart'))
chart.setOption({
    animation: false,
    backgroundColor: 'transparent',
    grid: [
        { left: 0, width: 913, top: 582, height: 788 },
        { left: 0, width: 913, top: 1428, height: 275 },
        { left: 0, width: 913, top: 1708, height: 284 }
    ],
    xAxis: [makeXAxis(0, true), makeXAxis(1, false), makeXAxis(2, false)],
    yAxis: [
        makeYAxis(0, 62.33, 381.95, priceTicks, priceTicks, v => Math.round(v * 1000).toLocaleString('en-US')),
        makeYAxis(1, 0, 11192, tradeTicks, tradeTicks, v => v.toLocaleString('en-US') + 'B'),
        makeYAxis(2, 20.18, 112.71, rsiGridTicks, rsiLabelTicks, v => v.toFixed(2))
    ],
    series: [
        {
            name: '종가',
            type: 'candlestick',
            data: candles,
            barWidth: 2,
            silent: true,
            itemStyle: { color: '#EE2A24', color0: '#2F72CF', borderColor: '#EE2A24', borderColor0: '#2F72CF', borderWidth: 1 }
        },
        maLine('480', ma480Points, '#8C3D3A', 4.5),
        maLine('240', ma240Points, '#EE30EE', 4.5),
        maLine('120', ma120Points, '#0A0A0A', 4.5),
        maLine('60', ma60Points, '#0F9A0F', 4.5),
        maLine('20', ma20Points, '#F0AE12', 4.5),
        maLine('5', ma5Points, '#F01010', 3.5),
        maLine('10', ma10Points, '#3A3A92', 3.5),
        {
            name: '주석',
            type: 'line',
            data: [],
            silent: true,
            markLine: {
                silent: true,
                symbol: 'none',
                label: { show: false },
                animation: false,
                data: [
                    ...levelPrices.map(p => ({ yAxis: p, lineStyle: { color: '#000', width: 4, type: 'solid' } })),
                    ...trendLines.map(t => [
                        { coord: [t[0], t[1]], lineStyle: { color: '#0A0ADC', width: 2, type: 'solid' } },
                        { coord: [t[2], t[3]] }
                    ]),
                    [
                        { coord: [218, 342.2], symbol: 'none', lineStyle: { color: '#D9261C', width: 2, type: 'solid' } },
                        { coord: [193, 342.2], symbol: 'arrow', symbolSize: 14 }
                    ],
                    [
                        { coord: [30, 71], symbol: 'none', lineStyle: { color: '#1E5EBF', width: 2, type: 'solid' } },
                        { coord: [14, 71], symbol: 'none' }
                    ]
                ]
            },
            markPoint: {
                silent: true,
                animation: false,
                data: [
                    textMark(1, 193.2, levelLabels[0], '#111'),
                    textMark(1, 129.8, levelLabels[1], '#111'),
                    textMark(211, 197.6, '−12.40°(−10.98%)', '#111'),
                    textMark(150, 117.6, '10.87°(30.23%)', '#111'),
                    textMark(220, 341.2, '최고 344,629(−47.62%,12/07)', '#D9261C', 35, 500),
                    textMark(31, 71, '최저 69,631(159.22%,04/10)', '#1E5EBF', 35, 500)
                ]
            }
        },
        {
            name: '거래대금',
            type: 'bar',
            xAxisIndex: 1,
            yAxisIndex: 1,
            data: tradeValues,
            barWidth: '95%',
            silent: true,
            itemStyle: { color: '#65669A' }
        },
        {
            name: '과열',
            type: 'line',
            xAxisIndex: 2,
            yAxisIndex: 2,
            data: rsiPoints.map(([i, v]) => [i, Math.max(v, rsiBands[0])]),
            symbol: 'none',
            silent: true,
            lineStyle: { width: 0 },
            areaStyle: { origin: rsiBands[0], color: '#FF9A00', opacity: 1 }
        },
        {
            name: '침체',
            type: 'line',
            xAxisIndex: 2,
            yAxisIndex: 2,
            data: rsiPoints.map(([i, v]) => [i, Math.min(v, rsiBands[1])]),
            symbol: 'none',
            silent: true,
            lineStyle: { width: 0 },
            areaStyle: { origin: rsiBands[1], color: '#A0DDF0', opacity: 1 }
        },
        {
            name: 'RSI',
            type: 'line',
            xAxisIndex: 2,
            yAxisIndex: 2,
            data: rsiPoints,
            symbol: 'none',
            silent: true,
            lineStyle: { color: '#F5730F', width: 2 },
            markLine: {
                silent: true,
                symbol: 'none',
                label: { show: false },
                animation: false,
                lineStyle: { color: '#888', width: 2, type: 'solid' },
                data: rsiBands.map(v => ({ yAxis: v }))
            }
        }
    ]
})
</script>
</body>
</html>
